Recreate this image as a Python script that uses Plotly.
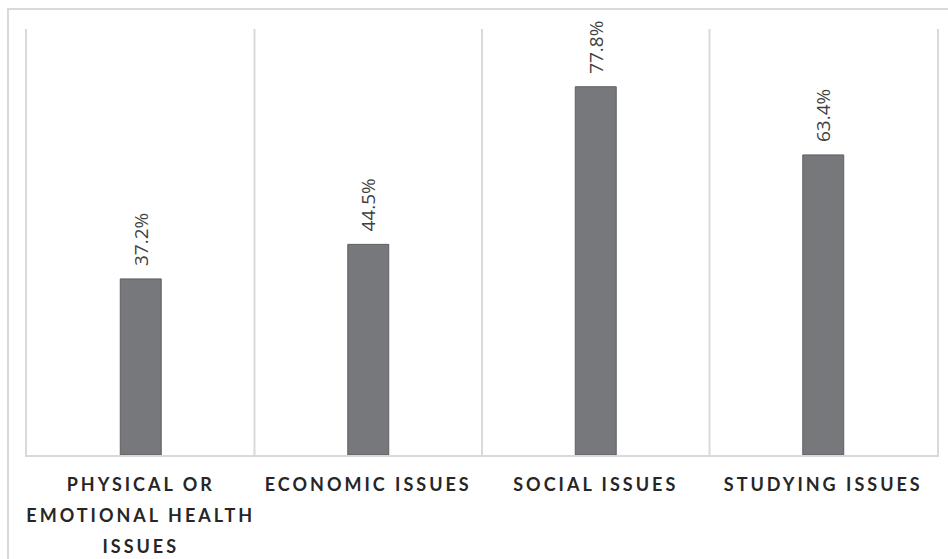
import plotly.graph_objects as go

categories = ["PHYSICAL OR<br>EMOTIONAL HEALTH<br>ISSUES", "ECONOMIC ISSUES", "SOCIAL ISSUES", "STUDYING ISSUES"]
values = [37.2, 44.5, 77.8, 63.4]
value_labels = ["37.2%", "44.5%", "77.8%", "63.4%"]

SPAN = '<span style="letter-spacing:3px;font-size:18px">'
tick_text = [SPAN + c.replace("<br>", "</span><br>" + SPAN) + "</span>" for c in categories]

fig = go.Figure()
fig.add_trace(go.Bar(
    x=list(range(len(categories))),
    y=values,
    width=0.18,
    marker=dict(color="#77787c", line=dict(color="#5e5f63", width=1)),
    text=["  " + t for t in value_labels],
    textposition="outside",
    textangle=-90,
    constraintext="none",
    cliponaxis=False,
    textfont=dict(family="Open Sans", size=19, color="#404040"),
))

fig.update_layout(
    width=948, height=559,
    margin=dict(l=27, r=11, t=29, b=104),
    paper_bgcolor="white", plot_bgcolor="white",
    showlegend=False,
    xaxis=dict(
        range=[-0.5, 3.5],
        tickmode="array",
        tickvals=list(range(len(categories))),
        ticktext=tick_text,
        showgrid=False,
        ticks="",
        automargin=False,
        showline=True, linecolor="#d9d9d9", linewidth=2,
        tickfont=dict(family="Lato", size=24, color="#262626", weight="bold"),
        ticklabelstandoff=5,
    ),
    yaxis=dict(
        range=[0, 90],
        showgrid=False,
        showticklabels=False,
        zeroline=False,
        automargin=False,
        showline=True, linecolor="#d9d9d9", linewidth=2, mirror=True,
    ),
)

# category boundary gridlines
for b in [0.5, 1.5, 2.5]:
    fig.add_shape(type="line", xref="x", yref="paper", x0=b, x1=b, y0=0, y1=1,
                  line=dict(color="#d9d9d9", width=2), layer="below")

# outer chart border
fig.add_shape(type="rect", xref="paper", yref="paper",
              x0=-0.0209, x1=1.02, y0=-0.5, y1=1.047,
              line=dict(color="#d9d9d9", width=2))

fig.write_html("out.html")
